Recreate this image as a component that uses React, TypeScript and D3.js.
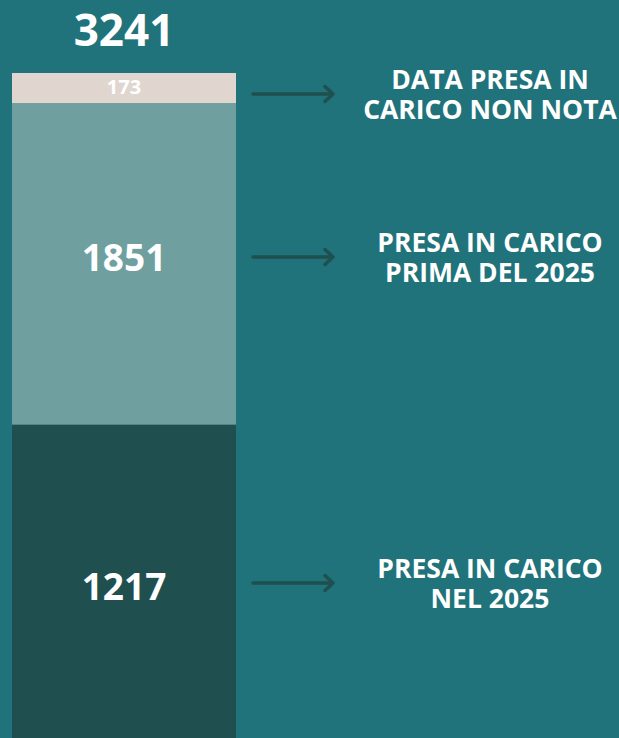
import React, { useEffect, useRef } from "react";
import * as d3 from "d3";

// segments from bottom to top
const categories = ["PRESA IN CARICO NEL 2025", "PRESA IN CARICO PRIMA DEL 2025", "DATA PRESA IN CARICO NON NOTA"];
const values = [1217, 1851, 173];
const labelLines = [
  ["PRESA IN CARICO", "NEL 2025"],
  ["PRESA IN CARICO", "PRIMA DEL 2025"],
  ["DATA PRESA IN", "CARICO NON NOTA"],
];
const colors = ["#1f4f4f", "#6fa09f", "#e0d6cf"];

export default function App() {
  const svgRef = useRef<SVGSVGElement>(null);

  useEffect(() => {
    document.body.style.margin = "0";
    const width = 619;
    const height = 738;
    const font = "'Open Sans', sans-serif";
    const total = d3.sum(values);

    const svg = d3.select(svgRef.current);
    svg.selectAll("*").remove();
    svg.attr("width", width).attr("height", height);

    svg.append("rect").attr("width", width).attr("height", height).attr("fill", "#20737a");

    const y = d3.scaleLinear().domain([0, total]).range([636, 73]);
    const x = d3.scaleBand().domain(["total"]).range([12, 236]).padding(0);

    let acc = 0;
    const stack = values.map((v, i) => {
      const d = { i, v, y0: acc, y1: acc + v };
      acc += v;
      return d;
    });
    // the base segment runs down to the bottom of the picture
    const top = (d: any) => y(d.y1);
    const bottom = (d: any) => (d.i === 0 ? height : y(d.y0));

    svg
      .selectAll("rect.seg")
      .data(stack)
      .join("rect")
      .attr("class", "seg")
      .attr("x", x("total")!)
      .attr("width", x.bandwidth())
      .attr("y", (d) => top(d))
      .attr("height", (d) => bottom(d) - top(d))
      .attr("fill", (d) => colors[d.i]);

    // segment values
    svg
      .selectAll("text.val")
      .data(stack)
      .join("text")
      .attr("class", "val")
      .attr("x", x("total")! + x.bandwidth() / 2)
      .attr("y", (d) => (top(d) + bottom(d)) / 2 + [5, -6, -1][d.i])
      .attr("dy", "0.36em")
      .attr("text-anchor", "middle")
      .style("font-family", font)
      .style("font-weight", 700)
      .style("font-size", (d) => (d.i === 2 ? "20px" : "37px"))
      .style("fill", "#ffffff")
      .text((d) => d.v);

    // total on top
    svg
      .append("text")
      .attr("x", x("total")! + x.bandwidth() / 2)
      .attr("y", y(total) - 27)
      .attr("text-anchor", "middle")
      .style("font-family", font)
      .style("font-weight", 700)
      .style("font-size", "44px")
      .style("fill", "#ffffff")
      .text(total);

    // arrows
    const arrowY = (d: any) => [583, 257, 94][d.i];
    const arrows = svg.selectAll("g.arrow").data(stack).join("g").attr("class", "arrow")
      .attr("transform", (d) => `translate(0, ${arrowY(d)})`);
    arrows
      .append("path")
      .attr("d", "M253,0 L333,0 M325,-7.5 L333,0 L325,7.5")
      .attr("fill", "none")
      .attr("stroke", "#1f4f4f")
      .attr("stroke-width", 3.5)
      .attr("stroke-linecap", "round")
      .attr("stroke-linejoin", "round");

    // category labels
    const lab = arrows
      .append("text")
      .attr("text-anchor", "middle")
      .style("font-family", font)
      .style("font-weight", 700)
      .style("font-size", "26.5px")
      .style("fill", "#ffffff");
    lab
      .selectAll("tspan")
      .data((d) => labelLines[d.i])
      .join("tspan")
      .attr("x", 490)
      .attr("y", (_, j) => -5 + j * 30)
      .text((t) => t);
  }, []);

  return <svg ref={svgRef} style={{ display: "block" }} />;
}
